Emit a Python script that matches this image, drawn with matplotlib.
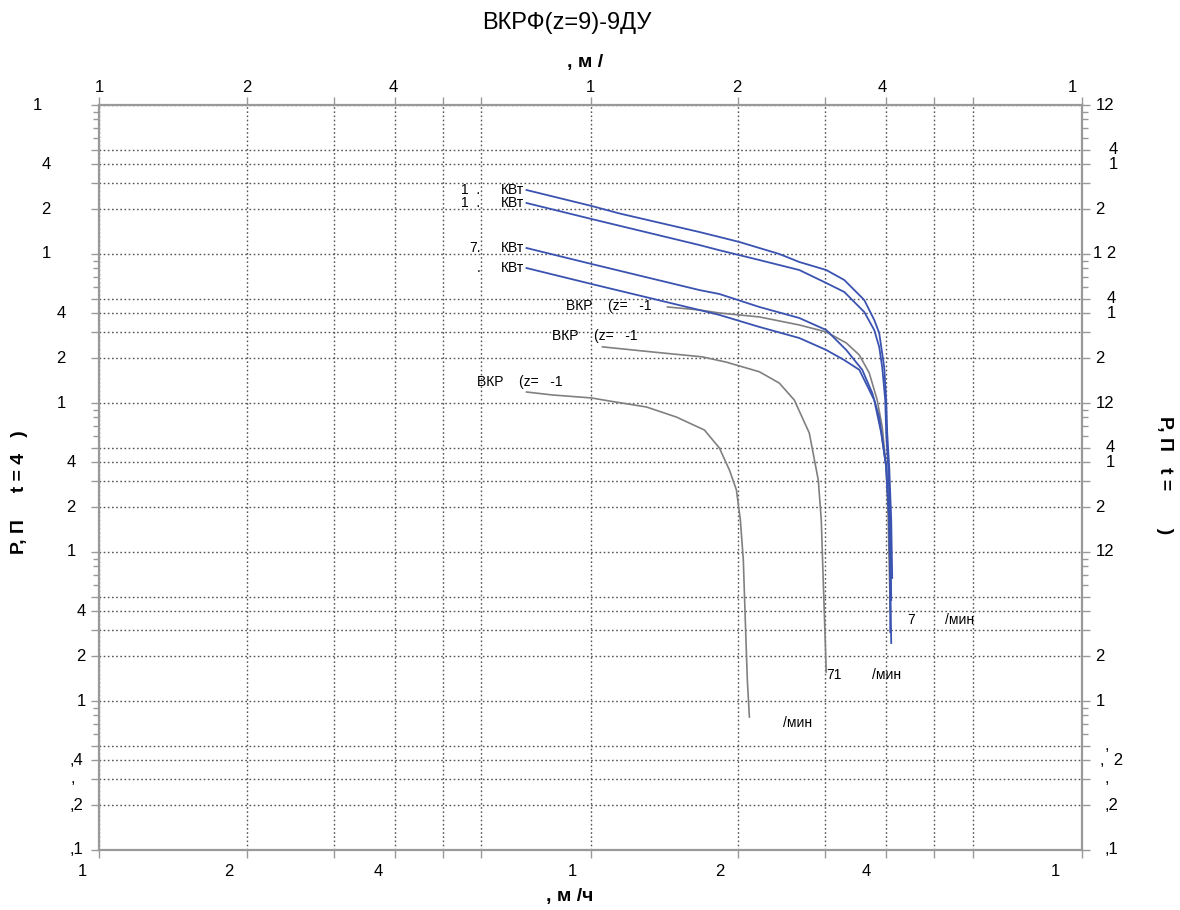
import matplotlib
matplotlib.use("Agg")
import matplotlib.pyplot as plt
from matplotlib.ticker import FixedLocator, NullFormatter

plt.rcParams['font.family'] = ['Liberation Sans', 'DejaVu Sans']

# ---- data -------------------------------------------------------------
# blue curves: fan pressure at four motor ratings
blue1_q = [7.41, 10.05, 11.46, 16.65, 18.29, 20.09, 22.06, 24.22, 26.59, 30.17,
           32.84, 36.06, 37.78, 38.67, 39.59, 39.96, 40.15, 40.53, 40.91, 41.10]
blue1_p = [2688, 2101, 1870, 1405, 1301, 1204, 1097, 1000, 884, 781,
           669, 491, 361, 295, 174, 104.7, 62.9, 37.2, 16.4, 6.69]

blue2_q = [7.41, 10.05, 16.65, 18.29, 22.06, 26.59, 30.17, 32.84, 36.06, 37.78,
           38.67, 39.22, 39.78, 39.96, 40.34, 40.72, 40.91]
blue2_p = [2199, 1717, 1149, 1060, 911, 781, 639, 556, 408, 309,
           238, 174, 104.7, 62.9, 37.2, 16.4, 4.76]

blue3_q = [7.41, 10.05, 16.65, 18.29, 22.06, 26.59, 30.17, 33.14, 35.72, 37.43,
           38.67, 39.96, 40.53, 40.72, 40.72]
blue3_p = [1097, 857, 573, 539, 441, 372, 309, 227, 167, 116.7,
           80.5, 37.2, 16.4, 6.49, 2.90]

blue4_q = [7.41, 10.05, 16.65, 18.29, 22.06, 26.59, 30.17, 32.84, 35.23, 37.78,
           39.04, 39.96, 40.53, 40.72, 40.91]
blue4_p = [805, 629, 421, 390, 324, 273, 227, 194, 167, 104.7,
           62.9, 37.2, 16.4, 6.49, 2.45]

# grey curves: ВКР fans
grey1_q = [14.34, 16.65, 18.29, 22.06, 26.59, 30.17, 33.14, 35.23, 36.91, 38.31,
           39.22, 39.96, 40.34, 40.72]
grey1_p = [441, 421, 402, 378, 334, 300, 253, 210, 159, 104.7,
           69.0, 37.2, 16.4, 4.08]

grey2_q = [10.58, 13.37, 16.89, 18.90, 22.06, 24.22, 25.98, 27.87, 29.07, 29.48,
           29.75, 30.03, 30.17]
grey2_p = [238, 220, 204, 188, 162, 136, 104.7, 62.9, 30.4, 16.4,
           6.49, 2.57, 1.565]

grey3_q = [7.41, 8.37, 10.05, 10.93, 13.0, 14.95, 17.05, 18.29, 19.17, 19.81,
           20.18, 20.46, 20.65, 20.85, 21.05]
grey3_p = [118.5, 113.2, 108.1, 103.1, 94.0, 80.5, 65.9, 49.9, 35.5, 26.1,
           16.4, 8.84, 3.50, 1.38, 0.781]

power_prefix = ["1  .", "1  .", "7.", "."]
power_unit = "КВт"
fan_label = "ВКР    (z=   -1"

# axis ticks and labels
x_grid = [1, 2, 3, 4, 5, 6, 10, 20, 30, 40, 50, 60, 100]
x_label_vals = [1, 2, 4, 10, 20, 40, 100]
x_label_txt = ["1", "2", "4", "1", "2", "4", "1"]

y_major = [0.1, 0.2, 0.3, 0.4, 0.5, 1, 2, 3, 4, 5, 10, 20, 30, 40, 50,
           100, 200, 300, 400, 500, 1000, 2000, 3000, 4000, 5000, 10000]
y_minor = [m * d for d in (0.1, 1, 10, 100, 1000) for m in (6, 7, 8, 9)]

left_vals = [10000, 4000, 2000, 1000, 400, 200, 100, 40, 20, 10, 4, 2, 1,
             0.4, 0.3, 0.2, 0.1]
left_txt = ["1", "4", "2", "1", "4", "2", "1", "4", "2", "1", "4", "2", "1",
            ",4", ",", ",2", ",1"]

right_vals = [10000, 5000, 4000, 2000, 1000, 500, 400, 200, 100, 50, 40, 20,
              10, 2, 1, 0.5, 0.4, 0.3, 0.2, 0.1]
right_txt = ["12", "4", "1", "2", "1 2", "4", "1", "2", "12", "4", "1", "2",
             "12", "2", "1", ",", ",  2", ",", ",2", ",1"]

# ---- figure -----------------------------------------------------------
W, H = 1180, 910
fig = plt.figure(figsize=(W / 100, H / 100), dpi=100)
ax = fig.add_axes([99 / W, 60 / H, 983 / W, 745 / H])
ax.set_xscale('log')
ax.set_yscale('log')
ax.set_xlim(1, 100)
ax.set_ylim(0.1, 10000)

BLUE = '#3a53b0'
GREY = '#808080'
FRAME = '#999999'

ax.xaxis.set_major_locator(FixedLocator(x_grid))
ax.xaxis.set_minor_locator(FixedLocator([]))
ax.yaxis.set_major_locator(FixedLocator(y_major))
ax.yaxis.set_minor_locator(FixedLocator(y_minor))
for axis in (ax.xaxis, ax.yaxis):
    axis.set_major_formatter(NullFormatter())
    axis.set_minor_formatter(NullFormatter())

ax.tick_params(which='both', direction='out', color=FRAME,
               top=True, right=True, bottom=True, left=True, width=1.0)
ax.tick_params(which='major', length=6)
ax.tick_params(which='minor', length=4)
ax.grid(which='major', linestyle=(0, (1.2, 1.8)), color='#555555', lw=1.0)
for s in ax.spines.values():
    s.set_color(FRAME)
    s.set_linewidth(1.6)

# curves
blues = [(blue1_q, blue1_p), (blue2_q, blue2_p), (blue3_q, blue3_p), (blue4_q, blue4_p)]
greys = [(grey1_q, grey1_p), (grey2_q, grey2_p), (grey3_q, grey3_p)]
for q, p in greys:
    ax.plot(q, p, color=GREY, lw=1.2)
for q, p in blues:
    ax.plot(q, p, color=BLUE, lw=1.3)

ANN = 10

# power annotations at the start of blue curves
for (q, p), pre in zip(blues, power_prefix):
    ax.annotate(power_unit, (q[0], p[0]), xytext=(-2, 0), textcoords='offset pixels',
                ha='right', va='center', fontsize=ANN)
    ax.annotate(pre, (q[0], p[0]), xytext=(-46, 0), textcoords='offset pixels',
                ha='right', va='center', fontsize=ANN)

# fan annotations above grey curves
grey_label_offsets = [(-101, 1), (-51, 11), (-50, 10)]
for (q, p), off in zip(greys, grey_label_offsets):
    ax.annotate(fan_label, (q[0], p[0]), xytext=off, textcoords='offset pixels',
                ha='left', va='center', fontsize=ANN)

# speed annotations at curve ends
ax.annotate("7", (blue4_q[-1], blue4_p[-1]), xytext=(20, 23), textcoords='offset pixels',
            ha='center', va='center', fontsize=ANN)
ax.annotate("/мин", (blue4_q[-1], blue4_p[-1]), xytext=(68, 23), textcoords='offset pixels',
            ha='center', va='center', fontsize=ANN)
ax.annotate("71", (grey2_q[-1], grey2_p[-1]), xytext=(0, -3), textcoords='offset pixels',
            ha='left', va='center', fontsize=ANN)
ax.annotate("/мин", (grey2_q[-1], grey2_p[-1]), xytext=(60, -3), textcoords='offset pixels',
            ha='center', va='center', fontsize=ANN)
ax.annotate("/мин", (grey3_q[-1], grey3_p[-1]), xytext=(48, -6), textcoords='offset pixels',
            ha='center', va='center', fontsize=ANN)

# axis tick labels
TICK = 12
xt = ax.get_xaxis_transform()
top_dx = [0, 0, -2, 0, -2, -4, -10]
bot_dx = [-17, -18, -17, -18, -19, -20, -27]
for v, t, d1, d2 in zip(x_label_vals, x_label_txt, top_dx, bot_dx):
    ax.annotate(t, (v, 1.0), xycoords=xt, xytext=(d1, 17), textcoords='offset pixels',
                ha='center', va='center', fontsize=TICK)
    ax.annotate(t, (v, 0.0), xycoords=xt, xytext=(d2, -22), textcoords='offset pixels',
                ha='center', va='center', fontsize=TICK)

yt = ax.get_yaxis_transform()
left_px = [37, 46, 46, 46, 61, 61, 61, 71, 71, 71, 81, 81, 81, 76, 73, 76, 76]
for v, t, px in zip(left_vals, left_txt, left_px):
    ax.annotate(t, (0.0, v), xycoords=yt, xytext=(px - 99, 0), textcoords='offset pixels',
                ha='center', va='center', fontsize=TICK)

right_px = [1105, 1113, 1113, 1100, 1105, 1111, 1111, 1100, 1105, 1110, 1110, 1100,
            1105, 1100, 1100, 1107, 1112, 1107, 1111, 1111]
for v, t, px in zip(right_vals, right_txt, right_px):
    ax.annotate(t, (1.0, v), xycoords=yt, xytext=(px - 1082, 0), textcoords='offset pixels',
                ha='center', va='center', fontsize=TICK)

# titles and axis captions
fig.text(567 / W, 1 - 23 / H, "ВКРФ(z=9)-9ДУ", ha='center', va='center', fontsize=17)
fig.text(585 / W, 1 - 62 / H, ", м /", ha='center', va='center', fontsize=14, fontweight='bold')
fig.text(570 / W, 1 - 897 / H, ", м /ч", ha='center', va='center', fontsize=14, fontweight='bold')
fig.text(20 / W, 1 - 492 / H, "Р, П     t = 4   )", ha='center', va='center', rotation=90,
         fontsize=14, fontweight='bold')
fig.text(1165 / W, 1 - 475 / H, "Р, П   t =       )", ha='center', va='center', rotation=270,
         fontsize=14, fontweight='bold')

fig.savefig("out.png", dpi=100)
